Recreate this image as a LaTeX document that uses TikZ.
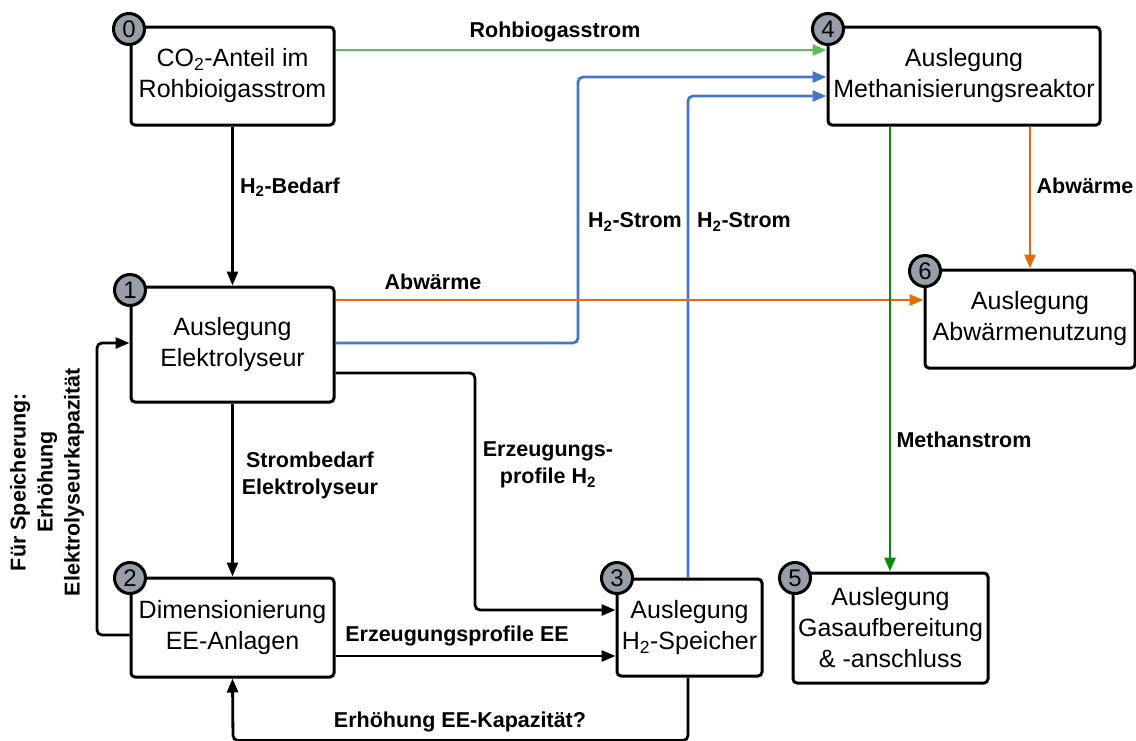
\documentclass[tikz,border=0pt]{standalone}
\usepackage{fontspec}
\setmainfont{Liberation Sans}
\usetikzlibrary{arrows.meta}
\definecolor{lgreen}{RGB}{92,190,92}
\definecolor{dgreen}{RGB}{10,140,10}
\definecolor{hblue}{RGB}{72,118,198}
\definecolor{orng}{RGB}{228,108,10}
\definecolor{cgray}{RGB}{152,158,168}
\tikzset{
  box/.style={draw=black, line width=3pt, rounded corners=4pt, fill=white, align=center,
    font=\fontsize{25}{31}\selectfont, inner sep=0pt},
  num/.style={circle, draw=black, line width=3pt, fill=cgray, minimum size=31pt, inner sep=0pt,
    font=\fontsize{24}{24}\selectfont},
  conn/.style={line width=2.8pt, rounded corners=5pt, -{Triangle[length=14pt,width=11pt]}},
  lbl/.style={font=\fontsize{21.5}{27}\selectfont\bfseries, align=center, inner sep=0pt},
}
\begin{document}
\begin{tikzpicture}[x=1pt,y=-1pt]
\useasboundingbox (0,0) rectangle (1136,740);
% boxes
\node[box, minimum width=203pt, minimum height=98pt] (b0) at (232.5,76) {CO\textsubscript{2}-Anteil im\\Rohbioigasstrom};
\node[box, minimum width=203pt, minimum height=115pt] (b1) at (232.5,344.5) {Auslegung\\Elektrolyseur};
\node[box, minimum width=203pt, minimum height=99pt] (b2) at (232.5,627.5) {Dimensionierung\\EE-Anlagen};
\node[box, minimum width=145pt, minimum height=97pt] (b3) at (689.5,627.5) {Auslegung\\H\textsubscript{2}-Speicher};
\node[box, minimum width=272pt, minimum height=98pt] (b4) at (964,76) {Auslegung\\Methanisierungsreaktor};
\node[box, minimum width=195pt, minimum height=110pt] (b5) at (890.5,628) {Auslegung\\Gasaufbereitung\\\& -anschluss};
\node[box, minimum width=210pt, minimum height=98pt] (b6) at (1030,319) {Auslegung\\Abwärmenutzung};
% connectors
\draw[conn, lgreen] (b0.east |- 0,50) -- (b4.west |- 0,50);
\draw[conn, hblue] (b1.east |- 0,343) -- (578,343) -- (578,77) -- (b4.west |- 0,77);
\draw[conn, hblue] (b3.north -| 688,0) -- (688,96) -- (b4.west |- 0,96);
\draw[conn, black] (b0.south) -- (b1.north);
\draw[conn, orng] (b1.east |- 0,300) -- (b6.west |- 0,300);
\draw[conn, orng] (b4.south -| 1030,0) -- (b6.north -| 1030,0);
\draw[conn, dgreen] (b4.south -| 890,0) -- (b5.north -| 890,0);
\draw[conn, black] (b1.south) -- (b2.north);
\draw[conn, black] (b1.east |- 0,373) -- (475,373) -- (475,610) -- (b3.west |- 0,610);
\draw[conn, black] (b2.east |- 0,656) -- (b3.west |- 0,656);
\draw[conn, black] (b3.south -| 688,0) -- (688,740.5) -- (233,740.5) -- (b2.south);
\draw[conn, black] (b2.west |- 0,635) -- (97,635) -- (97,343) -- (b1.west |- 0,343);
% labels
\node[lbl] (l1) at (555,32) {Rohbiogasstrom};
\node[lbl] (l2) at (635,222) {H\textsubscript{2}-Strom};
\node[lbl] (l3) at (744,222) {H\textsubscript{2}-Strom};
\node[lbl] (l4) at (290,187) {H\textsubscript{2}-Bedarf};
\node[lbl] (l5) at (433,282) {Abwärme};
\node[lbl] (l6) at (1085,186) {Abwärme};
\node[lbl] (l7) at (964,440) {Methanstrom};
\node[lbl] (l8) at (310,475) {Strombedarf\\Elektrolyseur};
\node[lbl] (l9) at (548,465) {Erzeugungs-\\profile H\textsubscript{2}};
\node[lbl] (l10) at (457,636) {Erzeugungsprofile EE};
\node[lbl] (l11) at (460,722) {Erhöhung EE-Kapazität?};
\node[lbl, rotate=90] (l12) at (47,482) {Für Speicherung:\\Erhöhung\\Elektrolyseurkapazität};
% number circles
\node[num] (n0) at (129,29) {0};
\node[num] (n1) at (130,290) {1};
\node[num] (n2) at (130,578) {2};
\node[num] (n3) at (617,578) {3};
\node[num] (n4) at (828,29) {4};
\node[num] (n5) at (795,578) {5};
\node[num] (n6) at (925,271) {6};
\end{tikzpicture}
\end{document}
